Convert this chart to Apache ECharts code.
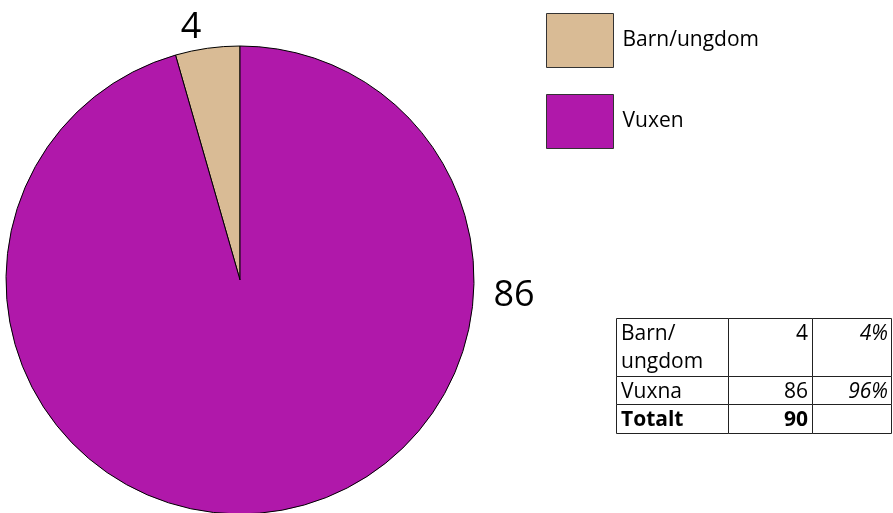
<!DOCTYPE html>
<html>
<head>
<meta charset="utf-8">
<script src="https://cdn.jsdelivr.net/npm/echarts@6/dist/echarts.min.js"></script>
<style>
    html, body { margin: 0; padding: 0; background: #fff; }
    #chart { width: 893px; height: 513px; }
</style>
</head>
<body>
<div id="chart"></div>
<script>
    // pie data
    const categories = ['Barn/ungdom', 'Vuxen'];
    const values = [4, 86];
    const colors = ['#D9BB95', '#B018AA'];

    // table on the right
    const tableLabels = ['Barn/\nungdom', 'Vuxna', 'Totalt'];
    const tableCounts = [4, 86, 90];
    const tableShares = ['4%', '96%', ''];

    // where Excel put the value labels
    const labelSpots = [[191, 28], [514, 296]];

    const font = 'Open Sans';
    const chart = echarts.init(document.getElementById('chart'));

    // table graphic built from the arrays
    const rowTops = [318, 376, 404, 433];
    const colX = [616, 728, 812, 891];
    const tableEls = [];
    for (let i = 0; i < tableLabels.length; i++) {
        const top = rowTops[i];
        const h = rowTops[i + 1] - top;
        const bold = i === tableLabels.length - 1;
        const f = (bold ? 'bold ' : '') + '21px "' + font + '"';
        for (let c = 0; c < 3; c++) {
            tableEls.push({
                type: 'rect',
                shape: { x: colX[c] + 0.5, y: top + 0.5, width: colX[c + 1] - colX[c], height: h },
                style: { fill: '#fff', stroke: '#222', lineWidth: 1 }
            });
        }
        tableEls.push({
            type: 'text', left: colX[0] + 5, top: top + 2, z: 10,
            style: { text: tableLabels[i], font: f, fill: '#000', lineHeight: 28 }
        });
        tableEls.push({
            type: 'text', z: 10,
            style: { text: String(tableCounts[i]), x: colX[2] - 4, y: top + 2, align: 'right', verticalAlign: 'top', font: f, fill: '#000', lineHeight: 28 }
        });
        tableEls.push({
            type: 'text', z: 10,
            style: { text: tableShares[i], x: colX[3] - 3, y: top + 2, align: 'right', verticalAlign: 'top', font: 'italic 21px "' + font + '"', fill: '#000', lineHeight: 28 }
        });
    }

    chart.setOption({
        animation: false,
        textStyle: { fontFamily: font },
        legend: {
            orient: 'vertical',
            left: 546,
            top: 13,
            padding: 0,
            itemWidth: 67,
            itemHeight: 54,
            itemGap: 26,
            icon: 'rect',
            itemStyle: { borderColor: '#333', borderWidth: 1 },
            textStyle: { fontSize: 21, color: '#000', padding: [6, 0, 0, 4] },
            data: categories
        },
        graphic: tableEls,
        series: [{
            type: 'pie',
            center: [240, 280],
            radius: 234,
            startAngle: 90,
            clockwise: false,
            silent: true,
            itemStyle: { borderColor: '#000', borderWidth: 1 },
            label: {
                show: true,
                position: 'outside',
                formatter: '{c}',
                fontSize: 36,
                color: '#000'
            },
            labelLine: { show: false },
            labelLayout: function (params) {
                const p = labelSpots[params.dataIndex];
                return { x: p[0], y: p[1], align: 'center', verticalAlign: 'middle' };
            },
            data: categories.map(function (name, i) {
                return { name: name, value: values[i], itemStyle: { color: colors[i] } };
            })
        }]
    });
</script>
</body>
</html>
